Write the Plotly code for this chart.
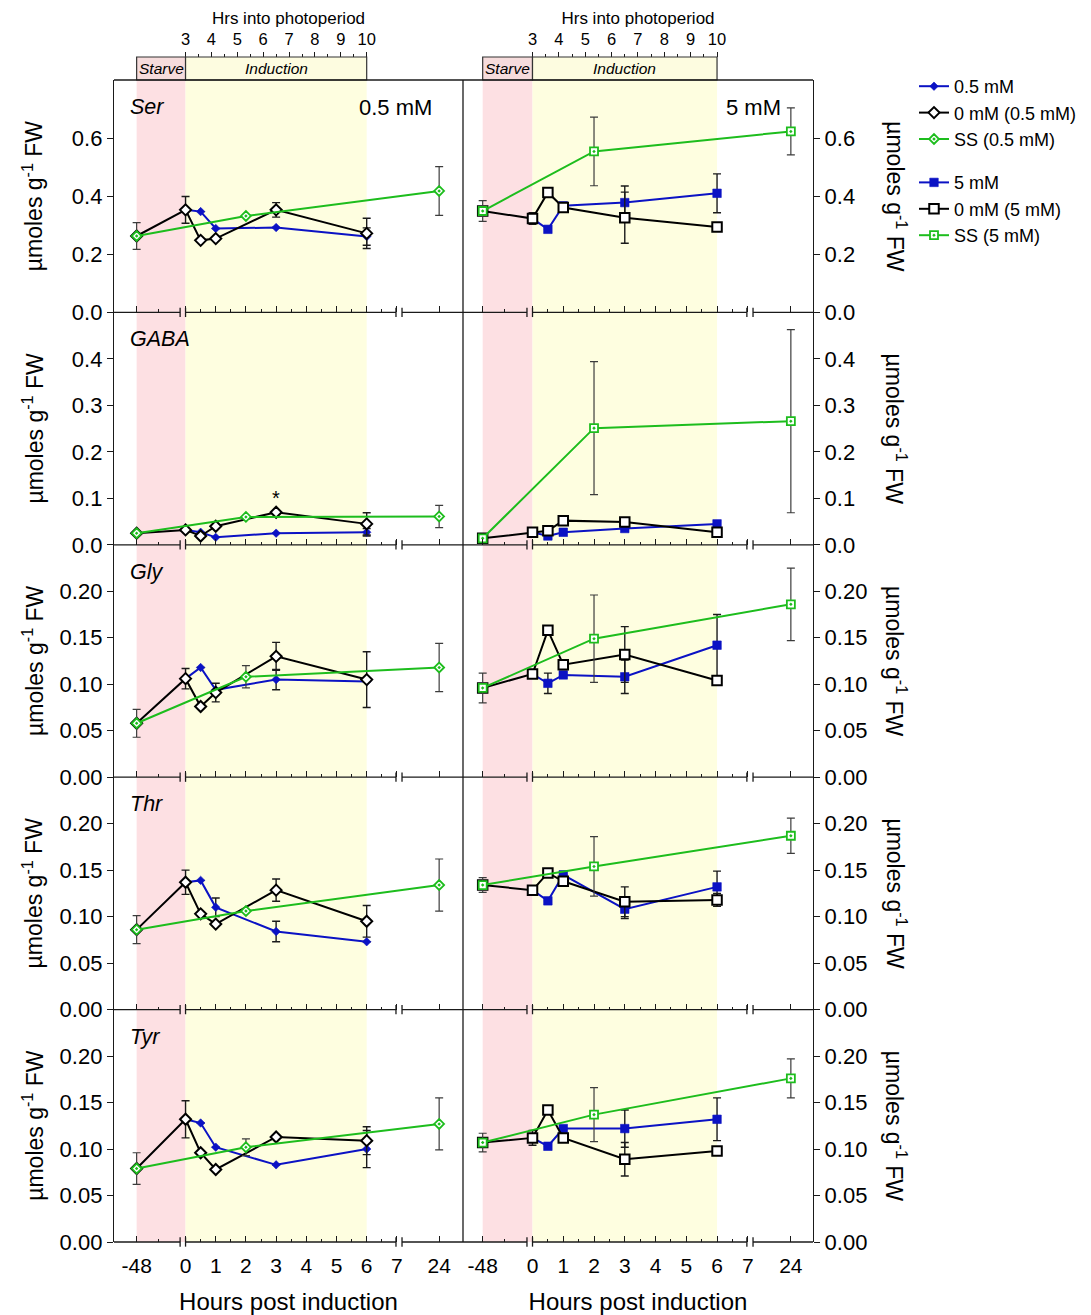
import plotly.graph_objects as go

# ---------------- sampling times (hours post induction) ----------------
HOURS_TREAT = [0, 0.5, 1, 3, 6]            # 0.5 mM / 5 mM feeding
HOURS_CTRL = [-48, 0, 0.5, 1, 3, 6]        # 0 mM controls
HOURS_SS = [-48, 2, 24]                    # steady state (SS)

# where the off-scale times sit on the broken hour axis
BREAK_POSITION = {-48: -1.62, 24: 8.4}

X_TICK_HOURS = [-48, 0, 1, 2, 3, 4, 5, 6, 7, 24]
X_TICK_TEXT = ["-48", "0", "1", "2", "3", "4", "5", "6", "7", "24"]
X_MINOR_POS = [-0.9, 0.5, 1.5, 2.5, 3.5, 4.5, 5.5, 6.5]

PHOTO_TICKS = [3, 4, 5, 6, 7, 8, 9, 10]
PHOTO_MINOR = [3.5, 4.5, 5.5, 6.5, 7.5, 8.5, 9.5]

AMINO_ACIDS = ["Ser", "GABA", "Gly", "Thr", "Tyr"]
CONCENTRATIONS = ["0.5 mM", "5 mM"]
Y_MAX = [0.8, 0.5, 0.25, 0.25, 0.25]
Y_TICKS_SER = [0.0, 0.2, 0.4, 0.6]
Y_TICKTEXT_SER = ["0.0", "0.2", "0.4", "0.6"]
Y_TICKS_GABA = [0.0, 0.1, 0.2, 0.3, 0.4]
Y_TICKTEXT_GABA = ["0.0", "0.1", "0.2", "0.3", "0.4"]
Y_TICKS_SMALL = [0.0, 0.05, 0.10, 0.15, 0.20]
Y_TICKTEXT_SMALL = ["0.00", "0.05", "0.10", "0.15", "0.20"]

# ---------------- Ser ----------------
SER_05_TREAT = [0.353, 0.347, 0.289, 0.292, 0.261]
SER_05_TREAT_ERR = [None, None, None, None, 0.03]
SER_05_CTRL = [0.263, 0.353, 0.248, 0.254, 0.353, 0.272]
SER_05_CTRL_ERR = [None, 0.046, None, None, 0.025, 0.052]
SER_05_SS = [0.263, 0.332, 0.418]
SER_05_SS_ERR = [0.046, None, 0.084]

SER_5_TREAT = [0.323, 0.286, 0.367, 0.378, 0.410]
SER_5_TREAT_ERR = [None, None, None, 0.057, 0.067]
SER_5_CTRL = [0.349, 0.323, 0.413, 0.361, 0.326, 0.294]
SER_5_CTRL_ERR = [None, 0.02, None, None, 0.088, None]
SER_5_SS = [0.349, 0.554, 0.623]
SER_5_SS_ERR = [0.036, 0.118, 0.081]

# ---------------- GABA ----------------
GABA_05_TREAT = [0.032, 0.027, 0.016, 0.025, 0.027]
GABA_05_TREAT_ERR = [None, None, None, None, 0.008]
GABA_05_CTRL = [0.025, 0.032, 0.019, 0.040, 0.070, 0.045]
GABA_05_CTRL_ERR = [None, None, None, None, None, 0.024]
GABA_05_SS = [0.025, 0.060, 0.061]
GABA_05_SS_ERR = [None, None, 0.024]

GABA_5_TREAT = [0.027, 0.019, 0.027, 0.035, 0.045]
GABA_5_TREAT_ERR = [None, None, None, None, None]
GABA_5_CTRL = [0.014, 0.027, 0.030, 0.052, 0.049, 0.027]
GABA_5_CTRL_ERR = [None, None, None, None, None, None]
GABA_5_SS = [0.014, 0.251, 0.266]
GABA_5_SS_ERR = [None, 0.143, 0.197]

# ---------------- Gly ----------------
GLY_05_TREAT = [0.106, 0.118, 0.094, 0.105, 0.103]
GLY_05_TREAT_ERR = [None, None, None, 0.011, None]
GLY_05_CTRL = [0.058, 0.106, 0.076, 0.091, 0.130, 0.105]
GLY_05_CTRL_ERR = [None, 0.011, None, 0.010, 0.015, 0.030]
GLY_05_SS = [0.058, 0.108, 0.118]
GLY_05_SS_ERR = [0.015, 0.012, 0.026]

GLY_5_TREAT = [0.111, 0.101, 0.110, 0.108, 0.142]
GLY_5_TREAT_ERR = [None, 0.011, None, 0.018, 0.033]
GLY_5_CTRL = [0.096, 0.111, 0.158, 0.121, 0.132, 0.104]
GLY_5_CTRL_ERR = [None, None, None, None, 0.030, None]
GLY_5_SS = [0.096, 0.149, 0.186]
GLY_5_SS_ERR = [0.016, 0.047, 0.039]

# ---------------- Thr ----------------
THR_05_TREAT = [0.137, 0.139, 0.110, 0.084, 0.073]
THR_05_TREAT_ERR = [None, None, 0.010, 0.011, None]
THR_05_CTRL = [0.086, 0.137, 0.103, 0.092, 0.1285, 0.095]
THR_05_CTRL_ERR = [None, 0.013, None, None, 0.012, 0.017]
THR_05_SS = [0.086, 0.106, 0.134]
THR_05_SS_ERR = [0.015, None, 0.028]

THR_5_TREAT = [0.1285, 0.117, 0.145, 0.108, 0.132]
THR_5_TREAT_ERR = [None, None, None, 0.010, 0.017]
THR_5_CTRL = [0.134, 0.1285, 0.147, 0.138, 0.116, 0.118]
THR_5_CTRL_ERR = [None, None, None, None, 0.016, 0.007]
THR_5_SS = [0.134, 0.154, 0.187]
THR_5_SS_ERR = [0.008, 0.032, 0.019]

# ---------------- Tyr ----------------
TYR_05_TREAT = [0.132, 0.128, 0.102, 0.083, 0.100]
TYR_05_TREAT_ERR = [None, None, None, None, 0.020]
TYR_05_CTRL = [0.079, 0.132, 0.096, 0.078, 0.113, 0.109]
TYR_05_CTRL_ERR = [None, 0.020, None, None, None, 0.015]
TYR_05_SS = [0.079, 0.102, 0.127]
TYR_05_SS_ERR = [0.017, 0.009, 0.028]

TYR_5_TREAT = [0.112, 0.103, 0.122, 0.122, 0.132]
TYR_5_TREAT_ERR = [None, None, None, 0.020, 0.023]
TYR_5_CTRL = [0.107, 0.112, 0.142, 0.112, 0.089, 0.098]
TYR_5_CTRL_ERR = [None, 0.008, None, None, 0.018, None]
TYR_5_SS = [0.107, 0.137, 0.176]
TYR_5_SS_ERR = [0.010, 0.029, 0.021]

PANEL_DATA = [
    [(SER_05_TREAT, SER_05_TREAT_ERR, SER_05_CTRL, SER_05_CTRL_ERR, SER_05_SS, SER_05_SS_ERR),
     (SER_5_TREAT, SER_5_TREAT_ERR, SER_5_CTRL, SER_5_CTRL_ERR, SER_5_SS, SER_5_SS_ERR)],
    [(GABA_05_TREAT, GABA_05_TREAT_ERR, GABA_05_CTRL, GABA_05_CTRL_ERR, GABA_05_SS, GABA_05_SS_ERR),
     (GABA_5_TREAT, GABA_5_TREAT_ERR, GABA_5_CTRL, GABA_5_CTRL_ERR, GABA_5_SS, GABA_5_SS_ERR)],
    [(GLY_05_TREAT, GLY_05_TREAT_ERR, GLY_05_CTRL, GLY_05_CTRL_ERR, GLY_05_SS, GLY_05_SS_ERR),
     (GLY_5_TREAT, GLY_5_TREAT_ERR, GLY_5_CTRL, GLY_5_CTRL_ERR, GLY_5_SS, GLY_5_SS_ERR)],
    [(THR_05_TREAT, THR_05_TREAT_ERR, THR_05_CTRL, THR_05_CTRL_ERR, THR_05_SS, THR_05_SS_ERR),
     (THR_5_TREAT, THR_5_TREAT_ERR, THR_5_CTRL, THR_5_CTRL_ERR, THR_5_SS, THR_5_SS_ERR)],
    [(TYR_05_TREAT, TYR_05_TREAT_ERR, TYR_05_CTRL, TYR_05_CTRL_ERR, TYR_05_SS, TYR_05_SS_ERR),
     (TYR_5_TREAT, TYR_5_TREAT_ERR, TYR_5_CTRL, TYR_5_CTRL_ERR, TYR_5_SS, TYR_5_SS_ERR)],
]
Y_TICKS = [(Y_TICKS_SER, Y_TICKTEXT_SER), (Y_TICKS_GABA, Y_TICKTEXT_GABA),
           (Y_TICKS_SMALL, Y_TICKTEXT_SMALL), (Y_TICKS_SMALL, Y_TICKTEXT_SMALL),
           (Y_TICKS_SMALL, Y_TICKTEXT_SMALL)]

LEGEND_NAMES = [["0.5 mM", "0 mM (0.5 mM)", "SS (0.5 mM)"],
                ["5 mM", "0 mM (5 mM)", "SS (5 mM)"]]

# ---------------- styling ----------------
FONT = "Liberation Sans, Arial, sans-serif"
BLUE = "#0b12c4"
GREEN = "#1dbd1d"
INK = "#1a1a1a"
PINK_BAND = "#fde0e3"
YELLOW_BAND = "#fefee0"
STARVE_FILL = "#f6dcdc"
INDUCTION_FILL = "#fdfce0"

W, H = 1091, 1315
MT, MB, ML, MR = 20, 73, 114, 278
PLOT_H = H - MT - MB
PLOT_W = W - ML - MR
PANEL_TOP_PX = 80                   # top of first row of panels
ROW_H = (H - MB - PANEL_TOP_PX) / 5
COL_SPLIT = 349 / PLOT_W
COL_DOMAINS = [[0, COL_SPLIT], [COL_SPLIT, 1]]
X_RANGES = [[-2.37, 9.19], [-2.26, 9.12]]
AXIS_BREAKS = [(-0.18, 0.0), (6.97, 7.17)]


def suffix(n):
    return "" if n == 1 else str(n)


def paper_y(px):
    return (H - MB - px) / PLOT_H


def row_domain(r):
    top = PANEL_TOP_PX + r * ROW_H
    return [paper_y(top + ROW_H), paper_y(top)]


def axis_pos(hour):
    return BREAK_POSITION.get(hour, hour)


def photo_to_pos(p):
    # photoperiod hours 3..10 span the induction window (0..6 h on the panel axis)
    return (p - 3) * 6 / 7


def pos_to_photo(x):
    return 3 + x * 7 / 6


SYMBOLS = [("diamond", "diamond", "diamond-dot"), ("square", "square", "square-dot")]
SIZES = [(6.5, 8.5, 7.6), (8.5, 9.5, 8.0)]

fig = go.Figure()
layout = {}
shapes = []
annotations = []

for r, aa in enumerate(AMINO_ACIDS):
    for c in range(2):
        n = r * 2 + c + 1
        s = suffix(n)
        xa, ya = f"x{s}", f"y{s}"
        treat, treat_err, ctrl, ctrl_err, ss, ss_err = PANEL_DATA[r][c]
        sym_t, sym_c, sym_s = SYMBOLS[c]
        sz_t, sz_c, sz_s = SIZES[c]
        group = f"g{c}"
        names = LEGEND_NAMES[c]
        show = r == 0

        fig.add_trace(go.Scatter(
            x=[axis_pos(h) for h in HOURS_TREAT], y=treat, mode="lines+markers",
            error_y=dict(type="data", array=treat_err, color=INK, thickness=1.4, width=4),
            line=dict(color=BLUE, width=2),
            marker=dict(symbol=sym_t, size=sz_t, color=BLUE, line=dict(color=BLUE, width=0.6)),
            name=names[0], legendgroup=group, showlegend=show,
            xaxis=xa, yaxis=ya, cliponaxis=False))
        fig.add_trace(go.Scatter(
            x=[axis_pos(h) for h in HOURS_CTRL], y=ctrl, mode="lines+markers",
            error_y=dict(type="data", array=ctrl_err, color=INK, thickness=1.4, width=4),
            line=dict(color="black", width=2),
            marker=dict(symbol=sym_c, size=sz_c, color="white", line=dict(color="black", width=2)),
            name=names[1], legendgroup=group, showlegend=show,
            xaxis=xa, yaxis=ya, cliponaxis=False))
        fig.add_trace(go.Scatter(
            x=[axis_pos(h) for h in HOURS_SS], y=ss, mode="lines+markers",
            error_y=dict(type="data", array=ss_err, color="#3c3c3c", thickness=1.2, width=4),
            line=dict(color=GREEN, width=2),
            marker=dict(symbol=sym_s, size=sz_s, color="white", line=dict(color=GREEN, width=1.8)),
            name=names[2], legendgroup=group, showlegend=show,
            xaxis=xa, yaxis=ya, cliponaxis=False))

        yt, ytt = Y_TICKS[r]
        layout[f"xaxis{s}"] = dict(
            domain=COL_DOMAINS[c], anchor=ya, range=X_RANGES[c],
            showline=False, showgrid=False, zeroline=False,
            ticks="inside", ticklen=6, tickwidth=1.2, tickcolor=INK,
            tickmode="array", tickvals=[axis_pos(h) for h in X_TICK_HOURS], ticktext=X_TICK_TEXT,
            showticklabels=(r == 4), tickfont=dict(size=21, color="black"),
            ticklabelstandoff=9,
            minor=dict(tickvals=X_MINOR_POS, ticks="inside", ticklen=3, tickwidth=1.2, tickcolor=INK),
            title=dict(text="Hours post induction" if r == 4 else "",
                       font=dict(size=24, color="black"), standoff=17),
        )
        layout[f"yaxis{s}"] = dict(
            domain=row_domain(r), anchor=xa, range=[0, Y_MAX[r]],
            side="left" if c == 0 else "right",
            showline=True, linecolor=INK, linewidth=1.3, mirror=False,
            ticks="outside", ticklen=6, tickwidth=1.3, tickcolor=INK,
            tickmode="array", tickvals=yt, ticktext=ytt,
            tickfont=dict(size=22, color="black"),
            showgrid=False, zeroline=False,
        )

        # starve / induction shading
        shapes.append(dict(type="rect", xref=xa, yref=f"{ya} domain", layer="below",
                           x0=axis_pos(-48), x1=0, y0=0, y1=1, fillcolor=PINK_BAND, line_width=0))
        shapes.append(dict(type="rect", xref=xa, yref=f"{ya} domain", layer="below",
                           x0=0, x1=6, y0=0, y1=1, fillcolor=YELLOW_BAND, line_width=0))

        # broken hour axis: line segments and break marks
        seg_edges = [X_RANGES[c][0]] + [v for pair in AXIS_BREAKS for v in pair] + [X_RANGES[c][1]]
        for k in range(0, len(seg_edges), 2):
            shapes.append(dict(type="line", xref=xa, yref=f"{ya} domain",
                               x0=seg_edges[k], x1=seg_edges[k + 1], y0=0, y1=0,
                               line=dict(color=INK, width=1.3)))
        for pair in AXIS_BREAKS:
            for v in pair:
                shapes.append(dict(type="line", xref=xa, yref=f"{ya} domain",
                                   x0=v, x1=v, y0=-0.02, y1=0.02,
                                   line=dict(color=INK, width=1.3)))

        # amino-acid name and concentration labels
        if c == 0:
            annotations.append(dict(text=f"<i>{aa}</i>", xref=f"{xa} domain", yref=f"{ya} domain",
                                    x=0.04, y=1 - 27 / ROW_H, xanchor="left", yanchor="middle",
                                    showarrow=False, font=dict(size=21.5, color="black")))
        if r == 0:
            annotations.append(dict(text=CONCENTRATIONS[c], xref=f"{xa} domain", yref=f"{ya} domain",
                                    x=0.916 if c == 0 else 0.914, y=1 - 27 / ROW_H,
                                    xanchor="right", yanchor="middle",
                                    showarrow=False, font=dict(size=22, color="black")))

    # y-axis titles, both sides
    yc = sum(row_domain(r)) / 2
    annotations.append(dict(text="µmoles g<sup>-1</sup> FW", xref="paper", yref="paper",
                            x=(33 - ML) / PLOT_W, y=yc, textangle=-90,
                            xanchor="center", yanchor="middle",
                            showarrow=False, font=dict(size=23, color="black")))
    annotations.append(dict(text="µmoles g<sup>-1</sup> FW", xref="paper", yref="paper",
                            x=(896 - ML) / PLOT_W, y=yc, textangle=90,
                            xanchor="center", yanchor="middle",
                            showarrow=False, font=dict(size=23, color="black")))

# significance mark on GABA, 0 mM control at 3 h
annotations.append(dict(text="*", xref="x3", yref="y3", x=axis_pos(HOURS_CTRL[4]), y=GABA_05_CTRL[4],
                        yshift=14, showarrow=False, font=dict(size=20, color="black")))

# photoperiod axes above each column with starve / induction boxes
box_bottom = paper_y(PANEL_TOP_PX)
box_top = paper_y(57)
for c in range(2):
    top_ax = 11 + c
    base = "x" + suffix(c + 1)
    layout[f"xaxis{top_ax}"] = dict(
        overlaying=base, anchor="free", position=box_top, side="top",
        range=[pos_to_photo(X_RANGES[c][0]), pos_to_photo(X_RANGES[c][1])],
        tickmode="array", tickvals=PHOTO_TICKS, ticks="outside", ticklen=5, tickwidth=1.1,
        tickcolor=INK, tickfont=dict(size=16.5, color="black"),
        minor=dict(tickvals=PHOTO_MINOR, ticks="outside", ticklen=3, tickwidth=1.1, tickcolor=INK),
        showline=False, showgrid=False, zeroline=False,
        title=dict(text="Hrs into photoperiod", font=dict(size=17, color="black"), standoff=0),
    )
    fig.add_trace(go.Scatter(x=[None], y=[None], xaxis=f"x{top_ax}", yaxis="y" + suffix(c + 1),
                             showlegend=False, hoverinfo="skip"))
    shapes.append(dict(type="rect", xref=base, yref="paper", x0=axis_pos(-48), x1=0,
                       y0=box_bottom, y1=box_top, fillcolor=STARVE_FILL,
                       line=dict(color="#333333", width=1.2)))
    shapes.append(dict(type="rect", xref=base, yref="paper", x0=0, x1=photo_to_pos(10),
                       y0=box_bottom, y1=box_top, fillcolor=INDUCTION_FILL,
                       line=dict(color="#333333", width=1.2)))
    annotations.append(dict(text="<i>Starve</i>", xref=base, yref="paper",
                            x=axis_pos(-48) / 2, y=(box_top + box_bottom) / 2,
                            xanchor="center", yanchor="middle",
                            showarrow=False, font=dict(size=15.5, color="black")))
    annotations.append(dict(text="<i>Induction</i>", xref=base, yref="paper",
                            x=photo_to_pos(10) / 2, y=(box_top + box_bottom) / 2,
                            xanchor="center", yanchor="middle",
                            showarrow=False, font=dict(size=15.5, color="black")))

# panel frame: top edge and the divider between columns
shapes.append(dict(type="line", xref="paper", yref="paper", x0=0, x1=1, y0=box_bottom, y1=box_bottom,
                   line=dict(color=INK, width=1.3)))
shapes.append(dict(type="line", xref="paper", yref="paper", x0=COL_SPLIT, x1=COL_SPLIT,
                   y0=0, y1=box_bottom, line=dict(color=INK, width=1.3)))

fig.update_layout(
    width=W, height=H,
    margin=dict(l=ML, r=MR, t=MT, b=MB, autoexpand=False),
    paper_bgcolor="white", plot_bgcolor="rgba(0,0,0,0)",
    font=dict(family=FONT, color="black"),
    showlegend=True,
    legend=dict(x=(914 - ML) / PLOT_W, y=paper_y(68), xanchor="left", yanchor="top",
                traceorder="grouped", tracegroupgap=17, font=dict(size=18, color="black"),
                bgcolor="rgba(0,0,0,0)", borderwidth=0),
    shapes=shapes,
    annotations=annotations,
    **layout,
)

fig.write_html("out.html")
